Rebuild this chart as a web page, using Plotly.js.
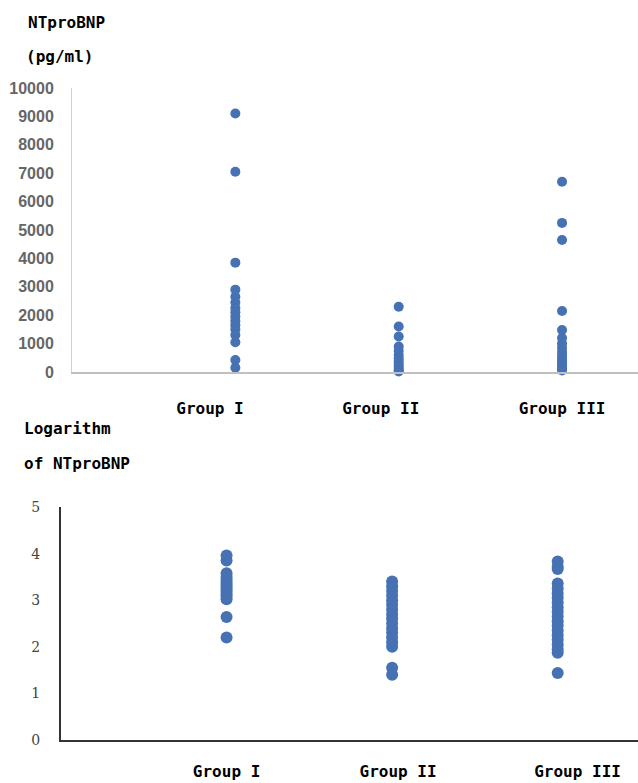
<!DOCTYPE html>
<html>
<head>
<meta charset="utf-8">
<script src="https://cdn.plot.ly/plotly-3.0.1.min.js"></script>
<style>html,body{margin:0;padding:0;background:#fff;}#chart{width:638px;height:783px;}</style>
</head>
<body>
<div id="chart"></div>
<script>
// ---- data ----
var categories = ["Group I", "Group II", "Group III"];

// NTproBNP (pg/ml)
var ntGroupI   = [9100, 7050, 3850, 2900, 2650, 2450, 2250, 2100, 1950, 1800, 1650, 1500, 1300, 1050, 420, 150];
var ntGroupII  = [2300, 1600, 1250, 900, 750, 600, 480, 380, 280, 200, 120, 60, 20];
var ntGroupIII = [6700, 5250, 4650, 2150, 1480, 1200, 1000, 850, 700, 580, 470, 370, 280, 200, 120, 50];

// Logarithm of NTproBNP
var logGroupI   = [3.96, 3.85, 3.58, 3.5, 3.44, 3.38, 3.33, 3.28, 3.23, 3.18, 3.13, 3.08, 3.02, 2.64, 2.2];
var logGroupII  = [3.4, 3.3, 3.2, 3.1, 3.0, 2.9, 2.8, 2.7, 2.6, 2.5, 2.4, 2.3, 2.2, 2.1, 2.0, 1.55, 1.4];
var logGroupIII = [3.83, 3.72, 3.67, 3.36, 3.25, 3.15, 3.05, 2.95, 2.85, 2.75, 2.65, 2.55, 2.45, 2.35, 2.25, 2.15, 2.05, 1.95, 1.87, 1.44];

var topTicks = [0, 1000, 2000, 3000, 4000, 5000, 6000, 7000, 8000, 9000, 10000];
var bottomTicks = [0, 1, 2, 3, 4, 5];

// ---- build traces ----
var color = "#4672B4";
function mk(vals, idx, xa, ya, size) {
  return {
    type: "scatter", mode: "markers",
    x: vals.map(function () { return idx + 1; }),
    y: vals,
    xaxis: xa, yaxis: ya,
    marker: {color: color, size: size},
    showlegend: false, hoverinfo: "y", cliponaxis: false
  };
}
var data = [
  mk(ntGroupI, 0, "x", "y", 10),
  mk(ntGroupII, 1, "x", "y", 10),
  mk(ntGroupIII, 2, "x", "y", 10),
  mk(logGroupI, 0, "x2", "y2", 12),
  mk(logGroupII, 1, "x2", "y2", 12),
  mk(logGroupIII, 2, "x2", "y2", 12)
];

var labelFont = {family: "DejaVu Sans Mono, monospace", size: 16, color: "#000", weight: "bold"};

var layout = {
  width: 638, height: 783,
  margin: {l: 0, r: 0, t: 0, b: 0},
  paper_bgcolor: "#fff", plot_bgcolor: "#fff",
  showlegend: false,
  xaxis: {
    domain: [72/638, 1], range: [0, 3.465],
    showgrid: false, zeroline: false,
    showline: true, linecolor: "#c0c0c0", linewidth: 2,
    tickmode: "array", tickvals: [0.845, 1.89, 3.0], ticktext: categories,
    ticks: "", tickfont: labelFont, ticklabelstandoff: 21
  },
  yaxis: {
    domain: [(783-372)/783, (783-88)/783], range: [0, 10000],
    showgrid: false, zeroline: false,
    showline: true, linecolor: "#d0d0d0", linewidth: 1,
    tickmode: "array", tickvals: topTicks, ticktext: topTicks.map(String),
    ticks: "", ticklabelstandoff: 14,
    tickfont: {family: "Liberation Sans, Arial, sans-serif", size: 16, color: "#666", weight: "bold"}
  },
  xaxis2: {
    anchor: "y2",
    domain: [61/638, 1], range: [0, 3.485],
    showgrid: false, zeroline: false,
    showline: true, linecolor: "#333", linewidth: 2,
    tickmode: "array", tickvals: [1.0, 2.036, 3.12], ticktext: categories,
    ticks: "", tickfont: labelFont, ticklabelstandoff: 16
  },
  yaxis2: {
    anchor: "x2",
    domain: [(783-740)/783, (783-507)/783], range: [0, 5],
    showgrid: false, zeroline: false,
    showline: true, linecolor: "#333", linewidth: 2,
    tickmode: "array", tickvals: bottomTicks, ticktext: bottomTicks.map(String),
    ticks: "", ticklabelstandoff: 16,
    tickfont: {family: "DejaVu Serif, serif", size: 14, color: "#444"}
  },
  annotations: [
    {text: "NTproBNP", xref: "paper", yref: "paper", x: 26/638, y: 1 - 22/783,
     xanchor: "left", yanchor: "middle", showarrow: false, font: labelFont},
    {text: "(pg/ml)", xref: "paper", yref: "paper", x: 24/638, y: 1 - 57/783,
     xanchor: "left", yanchor: "middle", showarrow: false, font: labelFont},
    {text: "Logarithm", xref: "paper", yref: "paper", x: 22/638, y: 1 - 428/783,
     xanchor: "left", yanchor: "middle", showarrow: false, font: labelFont},
    {text: "of NTproBNP", xref: "paper", yref: "paper", x: 22/638, y: 1 - 463/783,
     xanchor: "left", yanchor: "middle", showarrow: false, font: labelFont}
  ]
};

Plotly.newPlot("chart", data, layout, {staticPlot: true, displayModeBar: false});
</script>
</body>
</html>
